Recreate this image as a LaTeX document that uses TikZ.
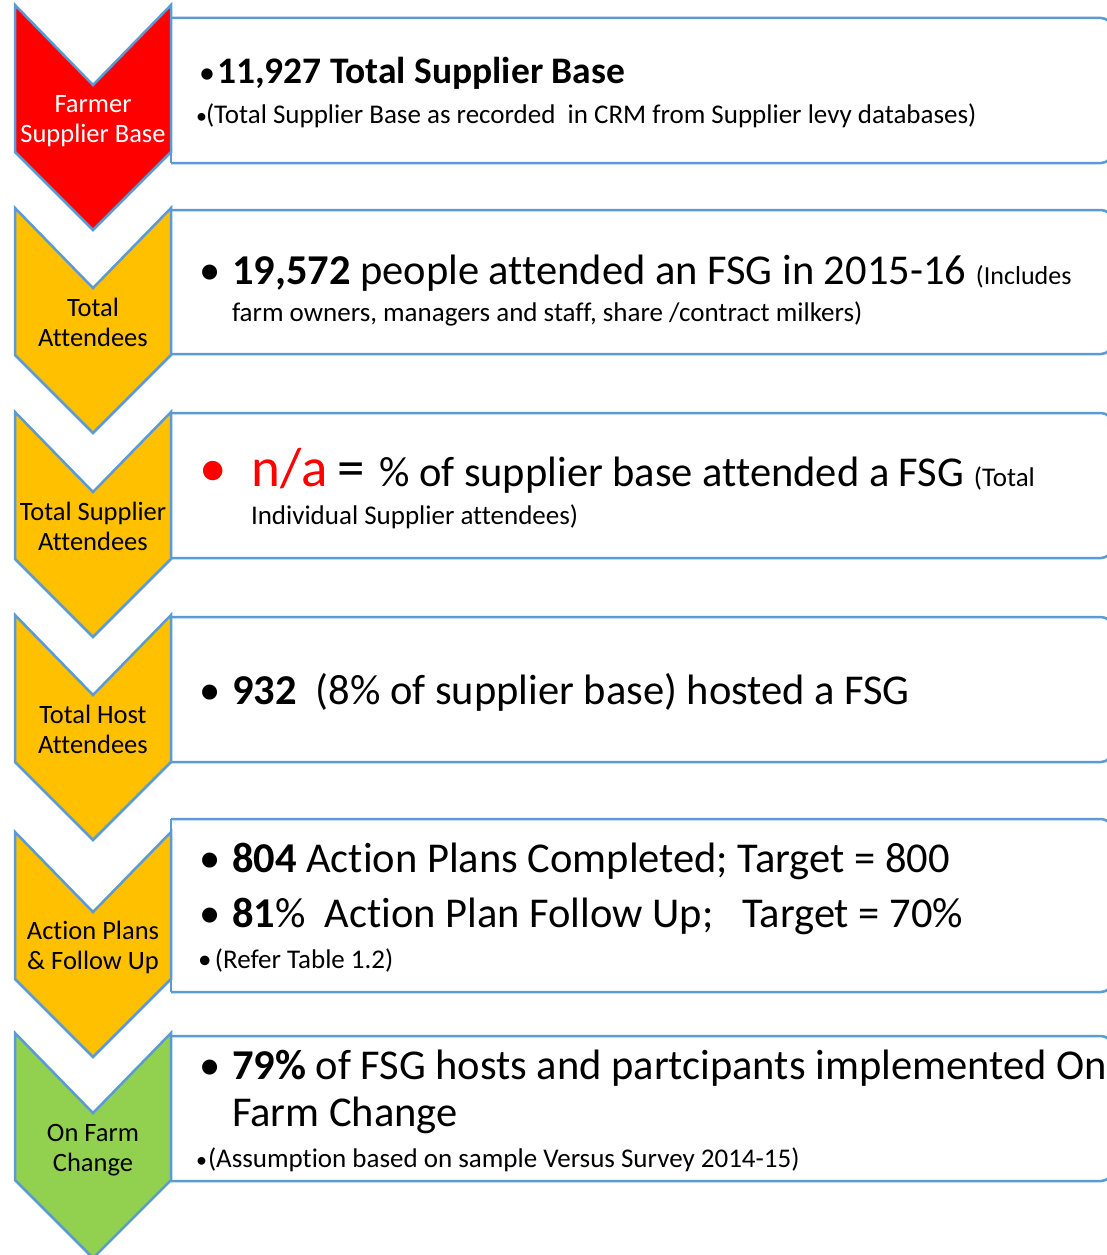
\documentclass[tikz,border=0pt]{standalone}
\usepackage{fontspec}
\setmainfont{Carlito}[Ligatures=NoCommon]
\definecolor{edgeblue}{HTML}{5B9BD5}
\definecolor{stepred}{HTML}{FF0000}
\definecolor{steporange}{HTML}{FFC000}
\definecolor{stepgreen}{HTML}{92D050}
\newcommand{\fs}[1]{\fontsize{#1}{#1}\selectfont}

\begin{document}
\begin{tikzpicture}[x=1pt, y=-1pt,
  every node/.style={inner sep=0pt, outer sep=0pt},
  edge/.style={draw=edgeblue, line width=2.5pt},
  chevlbl/.style={align=center, font=\fontsize{26.5}{30}\selectfont},
  txt/.style={anchor=base west}]
\useasboundingbox (0,0) rectangle (1107,1255);

% boxes on the right
\foreach \tp/\bt in {18/163, 210/354, 413/558, 617/762, 819/992, 1036/1181} {
  \draw[edge, rounded corners=11pt] (171,\tp) -- (1112,\tp) -- (1112,\bt) -- (171,\bt);
  \draw[edge] (171,\tp) -- (171,\bt);
}

% chevrons
\foreach \tp/\col in {5/stepred, 208/steporange, 412/steporange, 615/steporange, 832/steporange, 1033/stepgreen} {
  \draw[edge, fill=\col] (15,\tp) -- (93,\tp+80) -- (171,\tp) -- (171,\tp+147)
    -- (93,\tp+225) -- (15,\tp+147) -- cycle;
}

\node[chevlbl, text=white] (farmer) at (93,121) {Farmer\\Supplier Base};
\node[chevlbl] (attend) at (93,322) {Total\\Attendees};
\node[chevlbl] (suppatt) at (93,526) {Total Supplier\\Attendees};
\node[chevlbl] (hostatt) at (93,729) {Total Host\\Attendees};
\node[chevlbl] (plans) at (93,947) {Action Plans\\\& Follow Up};
\node[chevlbl] (change) at (93,1150) {On Farm\\Change};

% box texts
\node[txt, font=\fs{37.5}] (base) at (199,83) {\makebox[18pt][l]{\fs{32}\textbullet}\textbf{11,927 Total Supplier Base}};
\node[txt, font=\fs{27}] (basenote) at (196,123) {\makebox[10pt][l]{\fs{22}\textbullet}(Total Supplier Base as recorded\ \ in CRM from Supplier levy databases)};

\node[txt, font=\fs{42.5}] (people) at (199,284) {\makebox[33pt][l]{\textbullet}\textbf{19,572} people attended an FSG in 2015-16 {\fs{26}(Includes}};
\node[txt, font=\fs{27}] (peoplenote) at (232,321) {farm owners, managers and staff, share /contract milkers)};

\node[txt, font=\fs{42.5}] (share) at (199,486) {{\color{stepred}\fs{55}\makebox[53pt][l]{\textbullet}n/a} {\fs{55}=}\hspace{5pt} \% of supplier base attended a FSG {\fs{27}(Total}};
\node[txt, font=\fs{27}] (sharenote) at (251,524) {Individual Supplier attendees)};

\node[txt, font=\fs{42.5}] (hosts) at (199,704) {\makebox[33pt][l]{\textbullet}\textbf{932}\ \ (8\% of supplier base) hosted a FSG};

\node[txt, font=\fs{42.5}] (done) at (199,872) {\makebox[33pt][l]{\textbullet}\textbf{804} Action Plans Completed; Target = 800};
\node[txt, font=\fs{42.5}] (follow) at (199,927) {\makebox[33pt][l]{\textbullet}\textbf{81}\%\ \ Action Plan Follow Up;\ \ \ Target = 70\%};
\node[txt, font=\fs{27}] (table) at (198,968) {\makebox[17pt][l]{\textbullet}(Refer Table 1.2)};

\node[txt, font=\fs{42.5}] (impl) at (199,1079) {\makebox[33pt][l]{\textbullet}\textbf{79\%} of FSG hosts and partcipants implemented On};
\node[txt, font=\fs{42.5}] (impl2) at (232,1126) {Farm Change};
\node[txt, font=\fs{27}] (survey) at (196,1167) {\makebox[12pt][l]{\fs{22}\textbullet}(Assumption based on sample Versus Survey 2014-15)};
\end{tikzpicture}
\end{document}
